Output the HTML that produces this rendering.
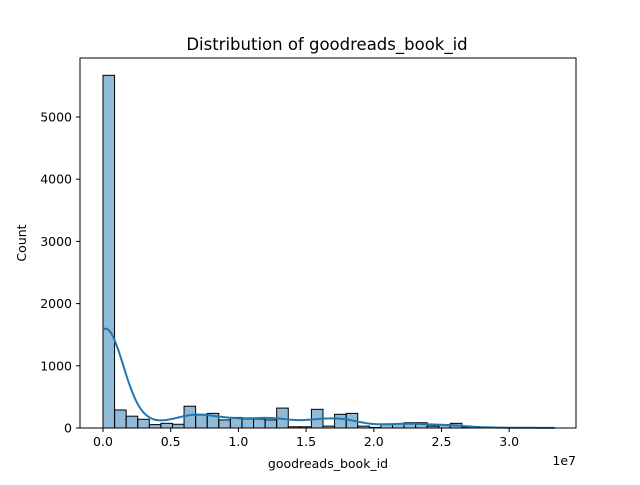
<!DOCTYPE html>
<html><head><meta charset="utf-8"><style>
body{margin:0;background:#fff;font-family:"Liberation Sans","DejaVu Sans",sans-serif}
text{font-family:"DejaVu Sans","Liberation Sans",sans-serif}
</style></head><body>
<svg id="chart" width="640" height="480" xmlns="http://www.w3.org/2000/svg">
<rect width="640" height="480" fill="#fff"/>
<text x="327" y="50" text-anchor="middle" style="font-size:16.5px">Distribution of goodreads_book_id</text>
<g id="bars"></g>
<path id="kde" fill="none" stroke="#1f77b4" stroke-width="2"/>
<g id="axes"></g>
<rect x="80" y="58" width="496" height="370" fill="none" stroke="#000" stroke-width="1"/>
<text x="328" y="468" text-anchor="middle" font-size="12.5">goodreads_book_id</text>
<text transform="translate(26,243) rotate(-90)" text-anchor="middle" font-size="12.5">Count</text>
<text x="576" y="465" text-anchor="end" font-size="12.5">1e7</text>
</svg>
<script>
const counts=[5670,290,190,140,55,75,60,350,220,235,130,170,145,145,130,320,20,20,300,30,220,235,30,10,65,65,85,85,30,55,75,15,10,8,5,5,3,3,2];
const xTicks=[0,0.5,1.0,1.5,2.0,2.5,3.0];
const xTickLabels=["0.0","0.5","1.0","1.5","2.0","2.5","3.0"];
const yTicks=[0,1000,2000,3000,4000,5000];
const dataMin=0, dataMax=3.335;
const NS="http://www.w3.org/2000/svg";
function X(v){return 103+v*135.4;}
function Y(c){return 428-c*0.0622;}
const bw=(dataMax-dataMin)/counts.length;
const bars=document.getElementById('bars');
counts.forEach((c,i)=>{
  const r=document.createElementNS(NS,'rect');
  
  
  const x0=X(dataMin+i*bw),x1=X(dataMin+(i+1)*bw);
  r.setAttribute('x',x0);r.setAttribute('width',x1-x0);
  r.setAttribute('y',Y(c));r.setAttribute('height',428-Y(c));
  r.setAttribute('fill','rgba(31,119,180,0.5)');r.setAttribute('stroke','#000');r.setAttribute('stroke-width','1');
  bars.appendChild(r);
});
const h=bw*1.5;
let d='';
for(let k=0;k<=300;k++){
  const x=dataMin+(dataMax-dataMin)*k/300;
  let s=0;
  counts.forEach((c,i)=>{const ci=dataMin+(i+0.15)*bw;const z=(x-ci)/h;s+=c*(bw/h)*Math.exp(-z*z/2)/Math.sqrt(2*Math.PI);});
  d+=(k?'L':'M')+X(x).toFixed(1)+','+Y(s).toFixed(1);
}
document.getElementById('kde').setAttribute('d',d);
const ax=document.getElementById('axes');
xTicks.forEach((t,i)=>{
  const l=document.createElementNS(NS,'line');
  
  
  l.setAttribute('x1',X(t));l.setAttribute('x2',X(t));l.setAttribute('y1',428);l.setAttribute('y2',432);l.setAttribute('stroke','#000');
  ax.appendChild(l);
  const tx=document.createElementNS(NS,'text');
  
  
  tx.setAttribute('x',X(t));tx.setAttribute('y',446);tx.setAttribute('text-anchor','middle');tx.setAttribute('font-size','12.5');
  tx.textContent=xTickLabels[i];ax.appendChild(tx);
});
yTicks.forEach(t=>{
  const l=document.createElementNS(NS,'line');
  
  
  l.setAttribute('x1',76);l.setAttribute('x2',80);l.setAttribute('y1',Y(t));l.setAttribute('y2',Y(t));l.setAttribute('stroke','#000');
  ax.appendChild(l);
  const tx=document.createElementNS(NS,'text');
  
  
  tx.setAttribute('x',72);tx.setAttribute('y',Y(t)+4.5);tx.setAttribute('text-anchor','end');tx.setAttribute('font-size','12.5');
  tx.textContent=t;ax.appendChild(tx);
});
</script>
</body></html>
